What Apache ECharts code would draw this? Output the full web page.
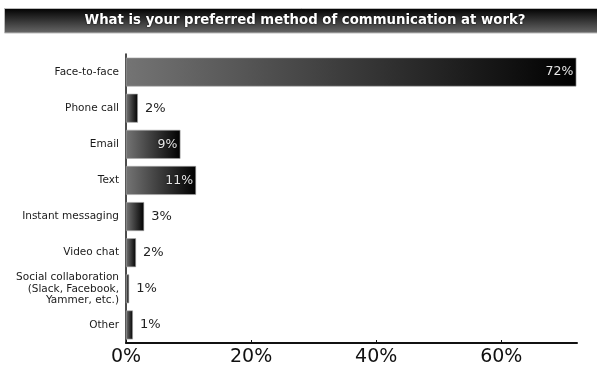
<!DOCTYPE html>
<html>
<head>
<meta charset="utf-8">
<script src="https://cdn.jsdelivr.net/npm/echarts@6/dist/echarts.min.js"></script>
<style>html,body{margin:0;padding:0;background:#fff}#c{width:597px;height:367px}</style>
</head>
<body>
<div id="c"></div>
<script>
const titleText = "What is your preferred method of communication at work?";
const categories = ["Face-to-face", "Phone call", "Email", "Text", "Instant messaging", "Video chat", "Social collaboration\n(Slack, Facebook,\nYammer, etc.)", "Other"];
const values = [72, 1.9, 8.7, 11.2, 2.9, 1.6, 0.5, 1.1];
const insideLabel = [true, false, true, true, false, false, false, false];
const xTicks = [0, 20, 40, 60];

const chart = echarts.init(document.getElementById('c'), null, {renderer: 'canvas'});
const grad = new echarts.graphic.LinearGradient(0, 0, 1, 0, [
  {offset: 0, color: '#747474'}, {offset: 1, color: '#000'}
]);
const data = values.map((v, i) => ({
  value: v,
  label: insideLabel[i] ? {
    position: 'insideRight', color: '#e6e6e6', fontSize: 12.5, distance: 3,
    textShadowColor: '#000', textShadowBlur: 2, fontWeight: 'normal'
  } : {position: 'right', color: '#222', fontSize: 13, distance: 7}
}));
chart.setOption({
  animation: false,
  graphic: [{
    type: 'rect', shape: {x: 4.5, y: 8.5, width: 600, height: 24.5},
    style: {
      fill: new echarts.graphic.LinearGradient(0, 0, 0, 1, [
        {offset: 0, color: '#000'}, {offset: 1, color: '#6a6a6a'}
      ]),
      stroke: '#bbb', lineWidth: 1
    }
  }, {
    type: 'text', x: 305, y: 21,
    style: {
      text: titleText, fill: '#fff', font: 'bold 13.3px "DejaVu Sans"',
      align: 'center', verticalAlign: 'middle', textShadowColor: '#000', textShadowBlur: 2
    }
  }],
  grid: {left: 126, right: 20, top: 54, bottom: 24, containLabel: false},
  xAxis: {
    type: 'value', min: 0, max: 72.1, interval: 20,
    axisLine: {show: true, lineStyle: {color: '#111', width: 2}},
    axisTick: {show: true, inside: true, length: 3, lineStyle: {color: '#111'}, customValues: xTicks},
    splitLine: {show: false},
    axisLabel: {
      fontSize: 19, color: '#111', fontFamily: 'DejaVu Sans', margin: 5,
      customValues: xTicks,
      formatter: v => v + '%'
    }
  },
  yAxis: {
    type: 'category', data: categories, inverse: true,
    axisLine: {show: true, lineStyle: {color: '#111', width: 1.5}},
    axisTick: {show: false},
    axisLabel: {
      fontSize: 10.5, color: '#1a1a1a', fontFamily: 'DejaVu Sans', margin: 7,
      lineHeight: 11.5, align: 'right'
    }
  },
  series: [{
    type: 'bar', data: data, barCategoryGap: '20%',
    itemStyle: {color: grad, borderColor: '#aaa', borderWidth: 0.6},
    label: {show: true, fontFamily: 'DejaVu Sans', formatter: p => Math.round(p.value) + '%'}
  }]
});
</script>
</body>
</html>
